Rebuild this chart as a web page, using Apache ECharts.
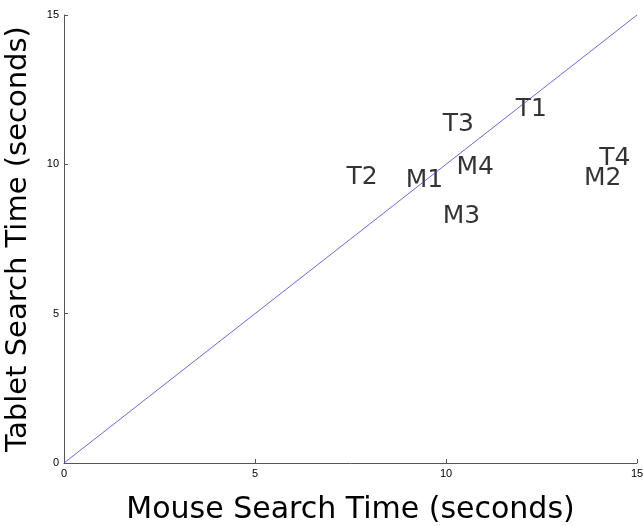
<!DOCTYPE html>
<html>
<head>
<meta charset="utf-8">
<script src="https://cdn.jsdelivr.net/npm/echarts@6/dist/echarts.min.js"></script>
<style>html,body{margin:0;padding:0;background:#fff}#c{width:643px;height:526px}</style>
</head>
<body>
<div id="c"></div>
<script>
const labels = ['T1','T2','T3','T4','M1','M2','M3','M4'];
const mouseTime = [11.81, 7.38, 9.9, 14.0, 8.93, 13.6, 9.9, 10.26];
const tabletTime = [11.82, 9.57, 11.32, 10.21, 9.47, 9.54, 8.27, 9.88];
const diagX = [0, 15];
const diagY = [0, 15];
const xTitle = 'Mouse Search Time (seconds)';
const yTitle = 'Tablet Search Time (seconds)';

const pts = labels.map((l, i) => ({ value: [mouseTime[i], tabletTime[i]], name: l }));
const chart = echarts.init(document.getElementById('c'));
const font = 'Liberation Sans, Arial, Helvetica, sans-serif';
const wide = 'DejaVu Sans, Liberation Sans, sans-serif';
chart.setOption({
  backgroundColor: '#fff',
  animation: false,
  grid: { left: 64, right: 6, top: 15, bottom: 63, outerBoundsMode: 'none', containLabel: false },
  xAxis: {
    type: 'value', min: 0, max: 15, interval: 5,
    name: xTitle, nameLocation: 'middle', nameGap: 32,
    nameTextStyle: { fontSize: 30, color: '#000', fontFamily: wide },
    axisLine: { lineStyle: { color: '#555', width: 1 } },
    axisTick: { inside: true, length: 4, lineStyle: { color: '#555' } },
    axisLabel: { fontSize: 11, color: '#000', fontFamily: font, margin: 5 },
    splitLine: { show: false }
  },
  yAxis: {
    type: 'value', min: 0, max: 15, interval: 5,
    name: yTitle, nameLocation: 'middle', nameGap: 31,
    nameTextStyle: { fontSize: 29, color: '#000', fontFamily: wide },
    axisLine: { lineStyle: { color: '#555', width: 1 } },
    axisTick: { inside: true, length: 4, lineStyle: { color: '#555' } },
    axisLabel: { fontSize: 11, color: '#000', fontFamily: font, margin: 5 },
    splitLine: { show: false }
  },
  series: [
    {
      type: 'line',
      data: diagX.map((x, i) => [x, diagY[i]]),
      showSymbol: false,
      lineStyle: { color: '#4444cc', width: 0.8 }
    },
    {
      type: 'scatter',
      data: pts,
      symbolSize: 1,
      itemStyle: { color: 'rgba(0,0,0,0)' },
      label: {
        show: true, position: 'right', distance: 0,
        formatter: p => p.name,
        fontSize: 25, color: '#000', fontFamily: wide,
        textBorderWidth: 0
      }
    }
  ]
});
</script>
</body>
</html>
